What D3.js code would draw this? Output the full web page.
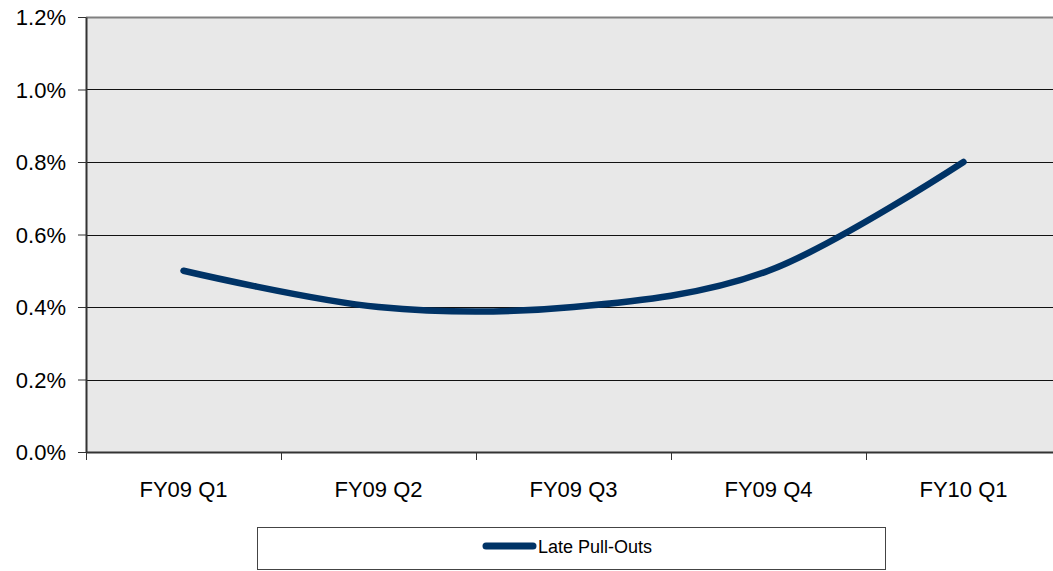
<!DOCTYPE html>
<html><head><meta charset="utf-8">
<script src="https://cdn.jsdelivr.net/npm/d3@7"></script>
<style>html,body{margin:0;padding:0;background:#fff;overflow:hidden}text{font-family:"Liberation Sans",Arial,sans-serif;fill:#000}</style>
</head><body><svg id="c" width="1053" height="571"></svg>
<script>
const categories = ["FY09 Q1","FY09 Q2","FY09 Q3","FY09 Q4","FY10 Q1"];
const values = [0.005, 0.0040, 0.0040, 0.0050, 0.008];
const yTicks = [0, 0.002, 0.004, 0.006, 0.008, 0.010, 0.012];
const seriesName = "Late Pull-Outs";

const svg = d3.select("#c");
const L = 86, R = 1061, T = 17, B = 452;
const x = d3.scaleBand().domain(categories).range([L, R]);
const y = d3.scaleLinear().domain([0, 0.012]).range([B, T]);

svg.append("rect").attr("x", L).attr("y", T).attr("width", R - L).attr("height", B - T).attr("fill", "#e8e8e8");

// gridlines
svg.append("g").selectAll("line").data(yTicks.filter(d => d > 0 && d < 0.012)).join("line")
  .attr("x1", L).attr("x2", R).attr("y1", d => Math.round(y(d)) + 0.5).attr("y2", d => Math.round(y(d)) + 0.5)
  .attr("stroke", "#111").attr("stroke-width", 1);
// top border
svg.append("line").attr("x1", L).attr("x2", R).attr("y1", T + 0.5).attr("y2", T + 0.5).attr("stroke", "#808080").attr("stroke-width", 2);

// y axis
const yAxis = d3.axisLeft(y).tickValues(yTicks).tickFormat(d3.format(".1%")).tickSize(8).tickSizeOuter(0);
const gy = svg.append("g").attr("transform", `translate(${L},0)`).call(yAxis);
gy.select(".domain").attr("stroke", "#333").attr("stroke-width", 2);
gy.selectAll(".tick line").attr("stroke", "#333");
gy.selectAll(".tick text").attr("x", -20).style("font-size", "22px").attr("dy", "0.35em");

// x axis
const xAxis = d3.axisBottom(x).tickSize(0).tickSizeOuter(0);
const gx = svg.append("g").attr("transform", `translate(0,${B})`).call(xAxis);
gx.select(".domain").attr("stroke", "#333").attr("stroke-width", 2);
gx.selectAll(".tick text").attr("y", 45).attr("dy", "0").style("font-size", "22px");
// category boundary ticks
const bounds = categories.map(c => x(c)).concat([x(categories[categories.length-1]) + x.bandwidth()]);
svg.append("g").selectAll("line").data(bounds).join("line")
  .attr("x1", d => Math.round(d) + 0.5).attr("x2", d => Math.round(d) + 0.5)
  .attr("y1", B).attr("y2", B + 8).attr("stroke", "#333");

// line
const data = categories.map((c, i) => ({c, v: values[i]}));
const line = d3.line().x(d => x(d.c) + x.bandwidth() / 2).y(d => y(d.v)).curve(d3.curveCardinal.tension(0));
svg.append("path").datum(data).attr("d", line).attr("fill", "none")
  .attr("stroke", "#003366").attr("stroke-width", 6.5).attr("stroke-linecap", "round").attr("stroke-linejoin", "round");

// legend
const lg = svg.append("g");
lg.append("rect").attr("x", 257.5).attr("y", 527.5).attr("width", 628).attr("height", 42)
  .attr("fill", "#fff").attr("stroke", "#444").attr("stroke-width", 1);
lg.append("line").attr("x1", 486).attr("x2", 533).attr("y1", 546).attr("y2", 546)
  .attr("stroke", "#003366").attr("stroke-width", 7).attr("stroke-linecap", "round");
lg.append("text").attr("x", 538).attr("y", 547).attr("dy", "0.35em").style("font-size", "18px").text(seriesName);
</script></body></html>
